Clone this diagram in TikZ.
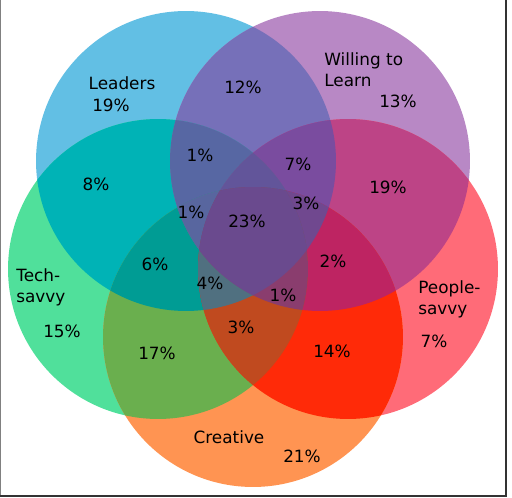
\documentclass[tikz,border=0pt]{standalone}
\usepackage{fontspec}
\setmainfont{DejaVu Sans}
\usetikzlibrary{positioning}
% one colour per region of the diagram
\definecolor{rL}{HTML}{62BFE4}
\definecolor{rW}{HTML}{B888C5}
\definecolor{rT}{HTML}{50E09B}
\definecolor{rP}{HTML}{FF6B78}
\definecolor{rC}{HTML}{FF9452}
\definecolor{rLW}{HTML}{7670B9}
\definecolor{rLT}{HTML}{00B3B6}
\definecolor{rLP}{HTML}{8E5EA8}
\definecolor{rLC}{HTML}{3F9F90}
\definecolor{rWT}{HTML}{6C84A8}
\definecolor{rWP}{HTML}{BD4486}
\definecolor{rWC}{HTML}{A8609A}
\definecolor{rTP}{HTML}{B06070}
\definecolor{rTC}{HTML}{6AAF4E}
\definecolor{rPC}{HTML}{FF2A08}
\definecolor{rLWT}{HTML}{5767A3}
\definecolor{rLWP}{HTML}{7A4C9F}
\definecolor{rLWC}{HTML}{6B5CA6}
\definecolor{rLTP}{HTML}{5C6C98}
\definecolor{rLTC}{HTML}{009C94}
\definecolor{rLPC}{HTML}{8A4A80}
\definecolor{rWTP}{HTML}{7E5090}
\definecolor{rWTC}{HTML}{607A8E}
\definecolor{rWPC}{HTML}{BE2462}
\definecolor{rTPC}{HTML}{C04A1F}
\definecolor{rLWTP}{HTML}{62559A}
\definecolor{rLWTC}{HTML}{58669F}
\definecolor{rLWPC}{HTML}{70488F}
\definecolor{rLTPC}{HTML}{507080}
\definecolor{rWTPC}{HTML}{8A3D6E}
\definecolor{rLWTPC}{HTML}{6A4A8E}
\tikzset{
    pct/.style={font=\fontsize{9.6}{11.9}\selectfont,text=black,inner sep=0pt},
    setname/.style={pct,align=left},
    frameline/.style={line width=0.6pt}
}

\begin{document}
\begin{tikzpicture}[x=0.02cm,y=-0.02cm]
  \useasboundingbox (0,0) rectangle (512,498);
  \coordinate (L) at (186,161);
  \coordinate (W) at (320,161);
  \coordinate (T) at (158,269);
  \coordinate (P) at (348,269);
  \coordinate (C) at (253,337);
  % paint regions from one set up to all five, so each point keeps its own set
  \foreach \sets/\col in {{L}/rL,{W}/rW,{T}/rT,{P}/rP,{C}/rC,
      {L,W}/rLW,{L,T}/rLT,{L,P}/rLP,{L,C}/rLC,{W,T}/rWT,
      {W,P}/rWP,{W,C}/rWC,{T,P}/rTP,{T,C}/rTC,{P,C}/rPC,
      {L,W,T}/rLWT,{L,W,P}/rLWP,{L,W,C}/rLWC,{L,T,P}/rLTP,{L,T,C}/rLTC,
      {L,P,C}/rLPC,{W,T,P}/rWTP,{W,T,C}/rWTC,{W,P,C}/rWPC,{T,P,C}/rTPC,
      {L,W,T,P}/rLWTP,{L,W,T,C}/rLWTC,{L,W,P,C}/rLWPC,{L,T,P,C}/rLTPC,
      {W,T,P,C}/rWTPC,{L,W,T,P,C}/rLWTPC}{
    \begin{scope}
      \foreach \k in \sets {\clip (\k) circle (3cm);}
      \fill[\col] (0,0) rectangle (512,498);
    \end{scope}
  }

  % screenshot frame
  \draw[frameline,gray] (0.5,0) -- (0.5,496);
  \draw[frameline,black!80] (0.5,496) -- (506,496) -- (506,0);

  % set names
  \node[pct] (nameL) at (122,83) {Leaders};
  \node[setname,anchor=west] (nameW) at (324,70) {Willing to\\Learn};
  \node[setname,anchor=west] (nameT) at (16,287) {Tech-\\savvy};
  \node[setname,anchor=west] (nameP) at (418,299) {People-\\savvy};
  \node[pct] (nameC) at (229,437) {Creative};

  % region values
  \node[pct] (vL) at (111,105) {19\%};
  \node[pct] (vW) at (398,101) {13\%};
  \node[pct] (vT) at (62,331) {15\%};
  \node[pct] (vP) at (434,341) {7\%};
  \node[pct] (vC) at (302,456) {21\%};
  \node[pct] (vLW) at (243,87) {12\%};
  \node[pct] (vLT) at (96,184) {8\%};
  \node[pct] (vWP) at (388,187) {19\%};
  \node[pct] (vTC) at (157,353) {17\%};
  \node[pct] (vPC) at (332,351) {14\%};
  \node[pct] (vLWT) at (200,155) {1\%};
  \node[pct] (vLWP) at (298,164) {7\%};
  \node[pct] (vLTC) at (155,264) {6\%};
  \node[pct] (vWPC) at (333,261) {2\%};
  \node[pct] (vTPC) at (241,327) {3\%};
  \node[pct] (vLWTC) at (191,212) {1\%};
  \node[pct] (vLWPC) at (306,203) {3\%};
  \node[pct] (vLTPC) at (210,283) {4\%};
  \node[pct] (vWTPC) at (283,295) {1\%};
  \node[pct] (vAll) at (247,221) {23\%};
\end{tikzpicture}
\end{document}
